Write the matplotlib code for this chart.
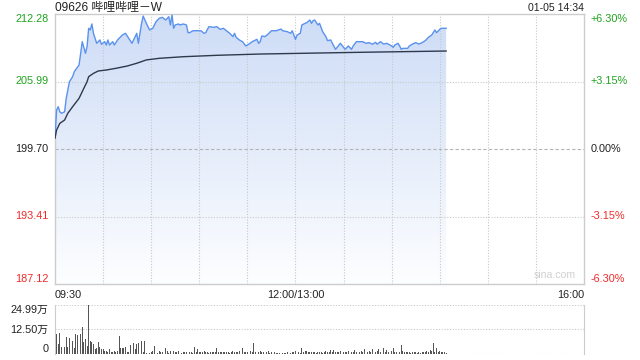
import numpy as np
import matplotlib
matplotlib.use("Agg")
import matplotlib.pyplot as plt

plt.rcParams["font.family"] = ["Liberation Sans", "Noto Sans CJK SC", "DejaVu Sans"]

# --- data (minutes after 09:30, HK session = 330 min) ---
prev_close = 199.70
price_levels = [187.12, 193.41, 199.70, 205.99, 212.28]
pct_labels = ["-6.30%", "-3.15%", "0.00%", "+3.15%", "+6.30%"]
time_labels = ["09:30", "12:00/13:00", "16:00"]
time_ticks = [0, 150, 330]

price_minutes = [0, 1, 2, 3, 4, 6, 7, 8, 9, 11, 12, 15, 16, 17, 19, 20, 21, 22, 23, 24,
                 26, 28, 29, 31, 32, 33, 34, 36, 37, 39, 42, 44, 46, 48, 50, 51, 52, 54, 55, 57,
                 59, 61, 63, 65, 67, 69, 71, 72, 73, 74, 75, 77, 78, 80, 82, 83, 84, 86, 88, 91,
                 93, 94, 96, 99, 101, 103, 105, 107, 109, 111, 112, 113, 115, 117, 119, 121, 123, 126, 127, 128,
                 129, 131, 133, 135, 138, 141, 142, 145, 147, 148, 150, 151, 153, 154, 156, 157, 159, 160, 161, 162,
                 164, 165, 167, 169, 170, 172, 173, 175, 176, 178, 180, 181, 183, 185, 186, 188, 192, 194, 196, 198,
                 200, 201, 203, 205, 207, 210, 211, 212, 214, 215, 216, 217, 220, 221, 223, 225, 227, 229, 231, 233,
                 235, 237, 238, 240, 241, 244]
price = [200.72, 203.33, 203.64, 203.17, 203.03, 203.17, 204.42, 205.20, 205.97, 206.44,
         206.90, 207.53, 208.62, 209.70, 208.62, 209.23, 210.95, 210.79, 211.35, 210.48,
         209.55, 209.86, 209.46, 209.70, 209.39, 209.86, 209.39, 209.70, 209.39, 209.86,
         210.32, 210.48, 210.02, 209.55, 210.17, 210.48, 209.55, 211.41, 212.09, 211.41,
         210.80, 210.95, 211.56, 211.88, 211.97, 211.72, 212.03, 211.26, 212.19, 210.95,
         211.26, 211.35, 211.26, 211.35, 211.26, 210.54, 210.54, 210.72, 210.72, 210.72,
         210.48, 210.54, 211.10, 211.04, 211.10, 210.85, 210.95, 210.72, 210.48, 210.17,
         210.48, 210.11, 209.86, 209.70, 209.30, 209.48, 209.70, 209.92, 209.55, 209.70,
         210.23, 210.17, 210.42, 210.72, 210.72, 210.88, 210.72, 210.63, 210.48, 210.72,
         209.92, 210.32, 210.48, 211.26, 211.41, 211.47, 211.72, 211.41, 211.66, 211.72,
         211.26, 211.41, 210.63, 210.17, 209.80, 209.86, 209.55, 208.99, 209.18, 209.55,
         209.18, 208.99, 209.30, 208.99, 209.30, 209.70, 209.70, 209.55, 209.61, 209.46,
         209.64, 209.46, 209.70, 209.48, 209.55, 209.30, 209.18, 209.39, 209.55, 209.30,
         208.99, 209.08, 209.08, 209.30, 209.48, 209.61, 209.48, 209.61, 209.80, 210.11,
         210.32, 210.79, 210.54, 210.85, 210.95, 210.95]

avg_minutes = [0, 1, 3, 6, 8, 11, 15, 18, 20, 21, 24, 27, 32, 38, 45, 51, 57, 65, 80, 101, 128, 190, 244]
avg_price = [200.72, 201.47, 202.09, 202.40, 203.03, 203.64, 204.42, 205.36, 205.97, 206.44,
             206.75, 206.97, 207.06, 207.22, 207.43, 207.69, 208.00, 208.15, 208.30, 208.43,
             208.55, 208.71, 208.83]

# volume per minute, in 万 shares
volume = [12.7, 10.2, 5.1, 10.7, 3.4, 3.4, 3.4, 8.5, 3.4, 8.0, 5.1, 6.8, 3.0, 10.2, 9.7, 4.3, 10.2, 13.6, 6.0, 7.7,
          4.0, 25.0, 6.8, 6.0, 5.1, 2.5, 3.0, 6.3, 3.4, 2.5, 2.5, 1.7, 1.7, 1.2, 2.5, 1.2, 0.8, 1.7, 1.2, 1.5,
          9.4, 2.9, 2.9, 2.9, 3.4, 0.8, 1.0, 4.6, 2.5, 5.6, 2.5, 5.1, 5.6, 9.4, 6.8, 1.0, 6.5, 0.5, 0.5, 0.5,
          1.0, 1.7, 3.9, 0.8, 0.5, 1.7, 0.8, 1.2, 0.8, 2.9, 1.7, 0.5, 1.7, 0.5, 1.7, 1.2, 0.8, 1.5, 2.2, 0.6,
          1.0, 1.2, 0.8, 1.5, 0.9, 1.2, 0.7, 3.7, 1.0, 2.5, 0.8, 1.2, 0.9, 1.5, 0.8, 1.2, 0.7, 1.0, 1.2, 0.8,
          1.2, 2.9, 0.8, 0.9, 1.2, 0.8, 1.0, 0.9, 1.2, 0.7, 1.0, 1.5, 0.8, 1.2, 1.0, 1.5, 0.9, 3.1, 1.0, 1.2,
          0.8, 1.0, 1.5, 1.2, 5.6, 1.0, 0.8, 1.2, 1.5, 0.9, 1.2, 0.8, 1.0, 1.5, 0.7, 0.9, 0.6, 0.8, 0.5, 0.7,
          0.6, 0.8, 0.5, 0.7, 0.6, 0.8, 0.5, 0.6, 0.9, 0.8, 1.7, 0.8, 1.0, 0.7, 2.9, 1.2, 1.7, 1.7, 0.9, 1.0,
          0.8, 1.0, 0.9, 0.7, 1.2, 0.8, 1.0, 0.7, 0.9, 1.5, 0.8, 1.0, 2.0, 0.9, 2.0, 1.2, 0.8, 1.0, 1.5, 0.8,
          1.0, 1.2, 0.8, 1.5, 1.0, 0.9, 1.2, 1.8, 1.0, 2.2, 0.9, 1.5, 1.0, 2.5, 1.2, 0.8, 1.6, 1.0, 2.8, 1.2,
          0.9, 1.5, 2.5, 1.0, 1.2, 3.0, 1.0, 1.8, 0.8, 2.2, 1.5, 3.2, 1.2, 1.0, 2.5, 1.0, 4.6, 1.5, 1.0, 1.2,
          0.8, 1.0, 0.7, 0.9, 0.8, 1.0, 0.6, 0.8, 0.7, 1.2, 0.8, 1.0, 1.5, 1.2, 2.0, 1.5, 5.4, 1.2, 2.9, 1.0,
          1.5, 1.2, 0.8, 1.0, 0.7]
vol_levels = [0, 12.50, 24.99]
vol_labels = ["0", "12.50万", "24.99万"]

GREEN = "#1fa31f"
RED = "#f02a2a"
GRID = "#c8c8c8"
EDGE = "#cccccc"
TEXT = "#222222"

fig = plt.figure(figsize=(6.4, 3.6), dpi=100)
ax = fig.add_axes([55 / 640, 1 - 284 / 360, 529 / 640, 270 / 360])
vax = fig.add_axes([55 / 640, 1 - 354 / 360, 529 / 640, 49 / 360])

# --- price panel ---
ax.set_xlim(0, 330)
ax.set_ylim(price_levels[0], price_levels[-1])

# grid sits on top of the area fill, like the original
for m in range(30, 330, 30):
    ax.axvline(m, color=GRID, lw=0.8, ls=(0, (1, 1.5)), zorder=2.5)
for lv in price_levels[1:-1]:
    if lv == prev_close:
        ax.axhline(lv, color="#b4b4b4", lw=0.8, ls=(0, (3, 2)), zorder=2.5)
    else:
        ax.axhline(lv, color=GRID, lw=0.8, ls=(0, (1, 1.5)), zorder=2.5)

# gradient fill below the price line, clipped to the area polygon
fill = ax.fill_between(price_minutes, price, price_levels[0], color="none", lw=0)
grad = np.linspace(0, 1, 256).reshape(-1, 1)
cmap = matplotlib.colors.LinearSegmentedColormap.from_list("g", ["#fdfeff", "#cddcf6"])
img = ax.imshow(grad, cmap=cmap, aspect="auto", origin="lower",
                extent=[0, 330, price_levels[0], price_levels[-1]], zorder=2)
img.set_clip_path(fill.get_paths()[0], transform=ax.transData)

ax.plot(price_minutes, price, color="#5a92ee", lw=1.0, zorder=3)
ax.plot(avg_minutes, avg_price, color="#2e3a4c", lw=1.0, zorder=4)

ax.set_xticks([])
ax.set_yticks([])
for s in ax.spines.values():
    s.set_color(EDGE)
    s.set_linewidth(1.0)


def level_color(v, ref):
    if v > ref:
        return GREEN
    if v < ref:
        return RED
    return TEXT


for lv, pct in zip(price_levels, pct_labels):
    va = "top" if lv == price_levels[-1] else ("bottom" if lv == price_levels[0] else "center")
    c = level_color(lv, prev_close)
    ax.text(-4, lv, f"{lv:.2f}", ha="right", va=va, color=c, fontsize=7.8)
    ax.text(334, lv, pct, ha="left", va=va, color=c, fontsize=7.8)

for t, lab in zip(time_ticks, time_labels):
    ha = {0: "left", 150: "center", 330: "right"}[t]
    ax.text(t, price_levels[0] - 0.6, lab, ha=ha, va="top", fontsize=7.8, color=TEXT)

fig.text(55 / 640, 1 - 8 / 360, "09626 哔哩哔哩－W", ha="left", va="center",
         fontsize=8.6, color=TEXT)
fig.text(584 / 640, 1 - 8 / 360, "01-05 14:34", ha="right", va="center",
         fontsize=7.6, color=TEXT)
ax.text(0.985, 0.015, "sina.com", transform=ax.transAxes, ha="right", va="bottom",
        fontsize=7.6, color="#d0d0d0")

# --- volume panel ---
vax.set_xlim(0, 330)
vax.set_ylim(0, vol_levels[-1])
vax.bar(np.arange(len(volume)), volume, width=0.55, color="#555555", zorder=3)
for lv in vol_levels:
    vax.axhline(lv, color=GRID, lw=0.8, ls=(0, (1, 1.5)), zorder=1)
vax.set_xticks([])
vax.set_yticks([])
for side in ["top", "bottom"]:
    vax.spines[side].set_visible(False)
for side in ["left", "right"]:
    vax.spines[side].set_color(EDGE)
for lv, lab in zip(vol_levels, vol_labels):
    va = "top" if lv == vol_levels[-1] else ("bottom" if lv == 0 else "center")
    vax.text(-4, lv, lab, ha="right", va=va, fontsize=7.8, color=TEXT)

fig.savefig("out.png", dpi=100)
